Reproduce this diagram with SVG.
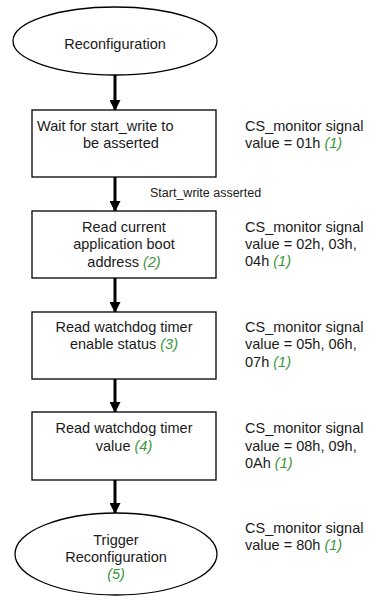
<svg xmlns="http://www.w3.org/2000/svg" width="370" height="597" viewBox="0 0 370 597">
  <style>
    .shape { fill: #ffffff; stroke: #000000; stroke-width: 1.3; }
    .lbl { font-family: "Liberation Sans", Arial, Helvetica, sans-serif; font-size: 14.5px; fill: #1a1a1a; }
    .mid { text-anchor: middle; }
    .small { font-size: 12.5px; }
    .ref { fill: #3a963a; font-style: italic; }
    .wire { stroke: #000000; stroke-width: 3; fill: none; marker-end: url(#head); }
  </style>
  <defs>
    <marker id="head" markerWidth="11" markerHeight="11" refX="10" refY="5.5" orient="auto" markerUnits="userSpaceOnUse">
      <path d="M0,0 L11,5.5 L0,11 Z" fill="#000000"/>
    </marker>
  </defs>
  <rect width="370" height="597" fill="#ffffff"/>

  <!-- connectors -->
  <g id="connectors">
    <line class="wire" x1="115" y1="75" x2="115" y2="110"/>
    <line class="wire" x1="115" y1="177" x2="115" y2="211"/>
    <line class="wire" x1="115" y1="278" x2="115" y2="312"/>
    <line class="wire" x1="115" y1="379" x2="115" y2="412"/>
    <line class="wire" x1="115" y1="480" x2="115" y2="513"/>
    <text class="lbl small" x="150" y="197">Start_write asserted</text>
  </g>

  <!-- start state -->
  <g id="start">
    <ellipse class="shape" cx="115" cy="41" rx="102" ry="34"/>
    <text class="lbl mid" x="115" y="49">Reconfiguration</text>
  </g>

  <!-- wait step -->
  <g id="wait">
    <rect class="shape" x="32" y="110" width="184" height="67"/>
    <text class="lbl" x="37" y="131">Wait for start_write to</text>
    <text class="lbl" x="83" y="148">be asserted</text>
  </g>
  <g id="wait-note">
    <text class="lbl" x="245" y="131">CS_monitor signal</text>
    <text class="lbl" x="245" y="148">value = 01h <tspan class="ref">(1)</tspan></text>
  </g>

  <!-- boot address step -->
  <g id="boot">
    <rect class="shape" x="32" y="211" width="184" height="67"/>
    <text class="lbl mid" x="124" y="232">Read current</text>
    <text class="lbl mid" x="124" y="249">application boot</text>
    <text class="lbl mid" x="124" y="267">address <tspan class="ref">(2)</tspan></text>
  </g>
  <g id="boot-note">
    <text class="lbl" x="245" y="232">CS_monitor signal</text>
    <text class="lbl" x="245" y="249">value = 02h, 03h,</text>
    <text class="lbl" x="245" y="266">04h <tspan class="ref">(1)</tspan></text>
  </g>

  <!-- watchdog enable step -->
  <g id="wdt-enable">
    <rect class="shape" x="32" y="312" width="184" height="67"/>
    <text class="lbl mid" x="124" y="332">Read watchdog timer</text>
    <text class="lbl mid" x="124" y="349">enable status <tspan class="ref">(3)</tspan></text>
  </g>
  <g id="wdt-enable-note">
    <text class="lbl" x="245" y="332">CS_monitor signal</text>
    <text class="lbl" x="245" y="349">value = 05h, 06h,</text>
    <text class="lbl" x="245" y="367">07h <tspan class="ref">(1)</tspan></text>
  </g>

  <!-- watchdog value step -->
  <g id="wdt-value">
    <rect class="shape" x="32" y="412" width="184" height="68"/>
    <text class="lbl mid" x="124" y="433">Read watchdog timer</text>
    <text class="lbl mid" x="124" y="451">value <tspan class="ref">(4)</tspan></text>
  </g>
  <g id="wdt-value-note">
    <text class="lbl" x="245" y="433">CS_monitor signal</text>
    <text class="lbl" x="245" y="451">value = 08h, 09h,</text>
    <text class="lbl" x="245" y="468">0Ah <tspan class="ref">(1)</tspan></text>
  </g>

  <!-- end state -->
  <g id="trigger">
    <ellipse class="shape" cx="116" cy="554" rx="101" ry="41"/>
    <text class="lbl mid" x="116" y="545">Trigger</text>
    <text class="lbl mid" x="116" y="562">Reconfiguration</text>
    <text class="lbl mid ref" x="116" y="579">(5)</text>
  </g>
  <g id="trigger-note">
    <text class="lbl" x="245" y="533">CS_monitor signal</text>
    <text class="lbl" x="245" y="550">value = 80h <tspan class="ref">(1)</tspan></text>
  </g>
</svg>
